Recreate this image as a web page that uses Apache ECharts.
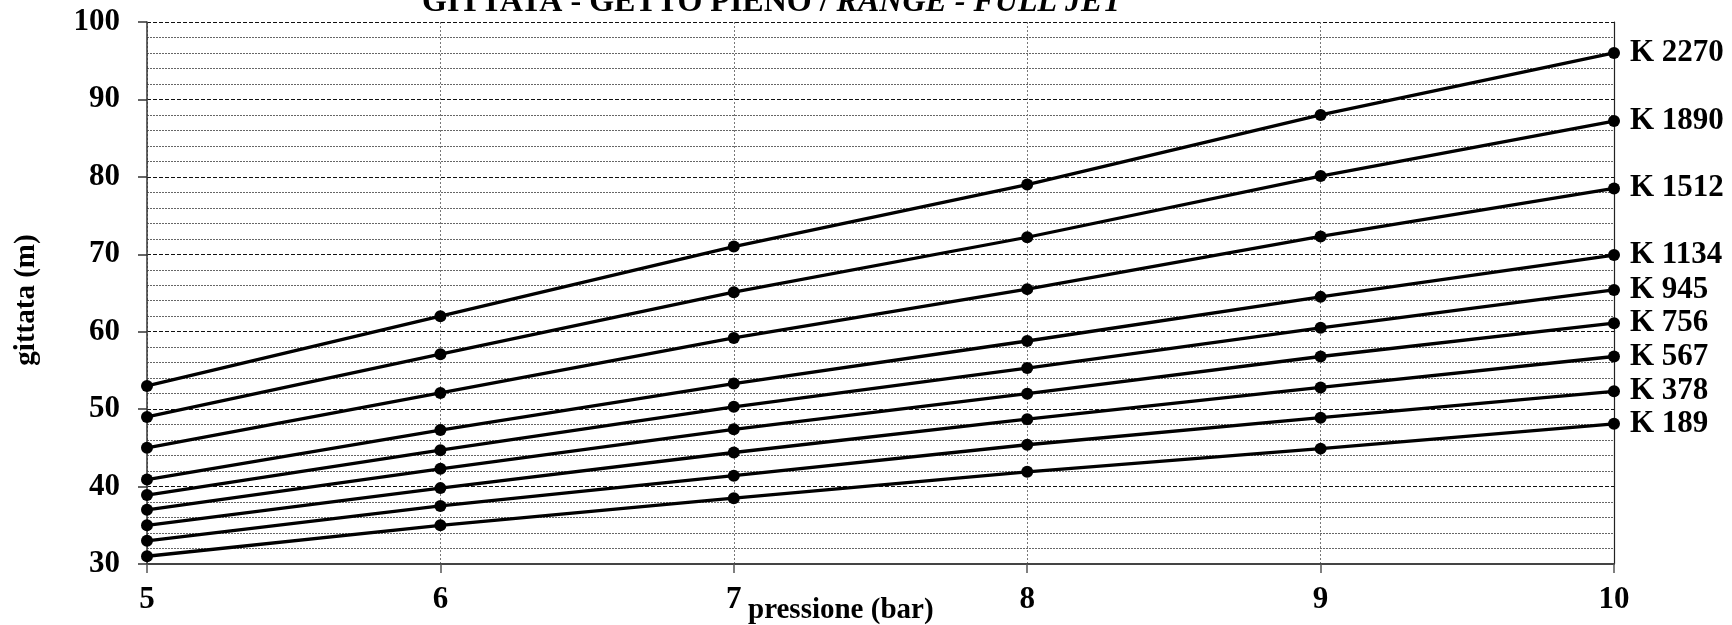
<!DOCTYPE html>
<html>
<head>
<meta charset="utf-8">
<script src="https://cdn.jsdelivr.net/npm/echarts@6/dist/echarts.min.js"></script>
<style>
html,body{margin:0;padding:0;background:#fff;}
#chart{width:1732px;height:625px;}
</style>
</head>
<body>
<div id="chart"></div>
<script>
const pressure = [5, 6, 7, 8, 9, 10];
const seriesNames = ['K 2270', 'K 1890', 'K 1512', 'K 1134', 'K 945', 'K 756', 'K 567', 'K 378', 'K 189'];
const k2270 = [53, 62, 71, 79, 88, 96];
const k1890 = [49, 57.1, 65.1, 72.2, 80.1, 87.2];
const k1512 = [45, 52.1, 59.2, 65.5, 72.3, 78.5];
const k1134 = [40.9, 47.3, 53.3, 58.8, 64.5, 69.9];
const k945 = [38.9, 44.7, 50.3, 55.3, 60.5, 65.4];
const k756 = [37, 42.3, 47.4, 52.0, 56.8, 61.1];
const k567 = [35, 39.8, 44.4, 48.7, 52.8, 56.8];
const k378 = [33, 37.5, 41.4, 45.4, 48.9, 52.3];
const k189 = [31, 35, 38.5, 41.9, 44.9, 48.1];
const yTicks = [30, 40, 50, 60, 70, 80, 90, 100];
const xTicks = [5, 6, 7, 8, 9, 10];
const titleMain = 'GITTATA - GETTO PIENO / ';
const titleItalic = 'RANGE - FULL JET';
const xName = 'pressione (bar)';
const yName = 'gittata (m)';

const allValues = [k2270, k1890, k1512, k1134, k945, k756, k567, k378, k189];
const FONT = '"Liberation Serif", "Times New Roman", serif';

const chart = echarts.init(document.getElementById('chart'));
const series = seriesNames.map((name, i) => ({
  name: name,
  type: 'line',
  data: pressure.map((p, j) => [p, allValues[i][j]]),
  symbol: 'circle',
  symbolSize: 12,
  showAllSymbol: true,
  lineStyle: { color: '#000', width: 3.3 },
  itemStyle: { color: '#000' },
  emphasis: { disabled: true },
  z: 5,
  endLabel: {
    show: true,
    formatter: '{a}',
    distance: 16,
    color: '#000',
    fontFamily: FONT,
    fontWeight: 'bold',
    fontSize: 31
  }
}));

chart.setOption({
  animation: false,
  backgroundColor: '#fff',
  title: {
    text: '{a|' + titleMain + '}{b|' + titleItalic + '}',
    left: 422,
    top: -13,
    padding: 0,
    textStyle: {
      rich: {
        a: { fontFamily: FONT, fontWeight: 'bold', fontSize: 32, color: '#000' },
        b: { fontFamily: FONT, fontWeight: 'bold', fontStyle: 'italic', fontSize: 32, color: '#000' }
      }
    }
  },
  grid: { left: 147, right: 118, top: 22, bottom: 61, containLabel: false },
  xAxis: {
    type: 'value',
    min: xTicks[0],
    max: xTicks[xTicks.length - 1],
    interval: 1,
    axisLine: { show: true, onZero: false, lineStyle: { color: '#444', width: 2 } },
    axisTick: { show: true, length: 9, inside: false, lineStyle: { color: '#555', width: 1.5 } },
    axisLabel: {
      margin: 20,
      color: '#000',
      fontFamily: FONT,
      fontWeight: 'bold',
      fontSize: 31,
      formatter: v => xTicks.includes(v) ? String(v) : ''
    },
    splitLine: { show: true, lineStyle: { color: '#777', type: [2, 2], width: 1 } }
  },
  yAxis: [{
    type: 'value',
    min: yTicks[0],
    max: yTicks[yTicks.length - 1],
    interval: 10,
    axisLine: { show: true, onZero: false, lineStyle: { color: '#333', width: 1.5 } },
    axisTick: { show: true, length: 9, lineStyle: { color: '#333', width: 1.5 } },
    axisLabel: {
      margin: 27,
      color: '#000',
      fontFamily: FONT,
      fontWeight: 'bold',
      fontSize: 31,
      formatter: v => yTicks.includes(v) ? String(v) : ''
    },
    splitLine: { show: true, lineStyle: { color: '#111', type: [4, 2], width: 1 } },
    minorTick: { show: false, splitNumber: 5 },
    minorSplitLine: { show: true, lineStyle: { color: '#666', type: [2, 1], width: 1 } }
  }, {
    type: 'value',
    position: 'right',
    min: yTicks[0],
    max: yTicks[yTicks.length - 1],
    interval: 10,
    axisLine: { show: true, onZero: false, lineStyle: { color: '#222', width: 1.2 } },
    axisTick: { show: false },
    axisLabel: { show: false },
    splitLine: { show: false }
  }],
  graphic: [
    {
      type: 'text',
      x: 27, y: 300,
      rotation: Math.PI / 2,
      style: {
        text: yName,
        font: 'bold 29px ' + FONT,
        fill: '#000',
        align: 'center', verticalAlign: 'middle',
        textAlign: 'center', textVerticalAlign: 'middle'
      }
    },
    {
      type: 'text',
      x: 748, y: 611,
      style: {
        text: xName,
        font: 'bold 29px ' + FONT,
        fill: '#000',
        align: 'left', verticalAlign: 'middle',
        textAlign: 'left', textVerticalAlign: 'middle'
      }
    }
  ],
  series: series
});
</script>
</body>
</html>
